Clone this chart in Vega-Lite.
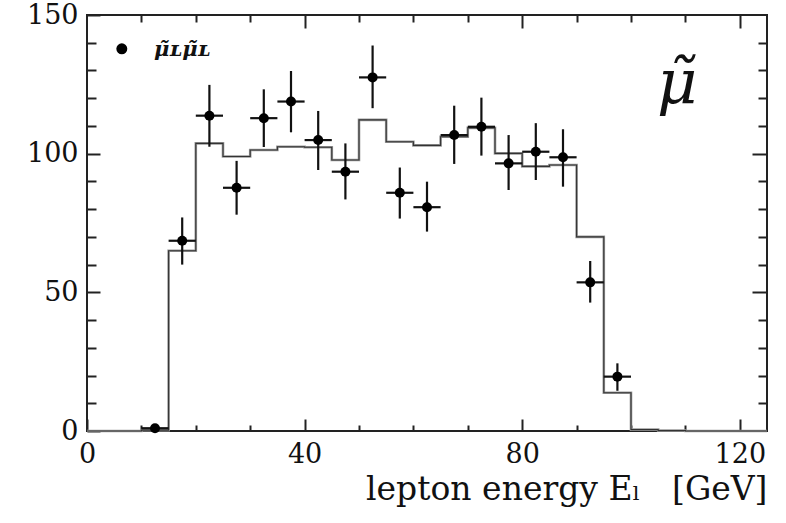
{
  "$schema": "https://vega.github.io/schema/vega-lite/v6.json",
  "width": 680,
  "height": 416,
  "autosize": {"type": "none"},
  "padding": {"left": 87, "top": 15, "right": 19, "bottom": 92},
  "background": "white",
  "config": {
    "view": {"stroke": "#222", "strokeWidth": 2},
    "axis": {"grid": false, "domain": false, "tickColor": "#222", "tickWidth": 2, "labelFont": "DejaVu Serif", "labelFontSize": 27, "labelColor": "#111", "labelFlush": false, "titleFont": "DejaVu Serif", "titleFontSize": 33, "titleFontWeight": "normal", "titleColor": "#111"}
  },
  "datasets": {
    "hist": [
      {"e": 0, "n": 0}, {"e": 5, "n": 0}, {"e": 10, "n": 0.3}, {"e": 15, "n": 65},
      {"e": 20, "n": 103.7}, {"e": 25, "n": 99}, {"e": 30, "n": 101.3}, {"e": 35, "n": 102.5},
      {"e": 40, "n": 102.3}, {"e": 45, "n": 97.7}, {"e": 50, "n": 112.2}, {"e": 55, "n": 104.3},
      {"e": 60, "n": 103}, {"e": 65, "n": 106.1}, {"e": 70, "n": 109.3}, {"e": 75, "n": 100.1},
      {"e": 80, "n": 95.4}, {"e": 85, "n": 95.9}, {"e": 90, "n": 70}, {"e": 95, "n": 13.8},
      {"e": 100, "n": 0.5}, {"e": 105, "n": 0.2}, {"e": 110, "n": 0}, {"e": 125, "n": 0}
    ],
    "pts": [
      {"E": 12.5, "e0": 10, "e1": 15, "n": 1, "lo": 0, "hi": 2},
      {"E": 17.5, "e0": 15, "e1": 20, "n": 68.6, "lo": 60, "hi": 77},
      {"E": 22.5, "e0": 20, "e1": 25, "n": 113.7, "lo": 102.5, "hi": 124.8},
      {"E": 27.5, "e0": 25, "e1": 30, "n": 87.7, "lo": 78, "hi": 97.4},
      {"E": 32.5, "e0": 30, "e1": 35, "n": 112.8, "lo": 102.4, "hi": 123.2},
      {"E": 37.5, "e0": 35, "e1": 40, "n": 118.8, "lo": 107.7, "hi": 129.8},
      {"E": 42.5, "e0": 40, "e1": 45, "n": 104.9, "lo": 94.1, "hi": 115.4},
      {"E": 47.5, "e0": 45, "e1": 50, "n": 93.5, "lo": 83.5, "hi": 103.7},
      {"E": 52.5, "e0": 50, "e1": 55, "n": 127.5, "lo": 116.4, "hi": 139},
      {"E": 57.5, "e0": 55, "e1": 60, "n": 85.9, "lo": 76.6, "hi": 95},
      {"E": 62.5, "e0": 60, "e1": 65, "n": 80.7, "lo": 71.9, "hi": 89.9},
      {"E": 67.5, "e0": 65, "e1": 70, "n": 106.7, "lo": 96.3, "hi": 117.3},
      {"E": 72.5, "e0": 70, "e1": 75, "n": 109.7, "lo": 99.3, "hi": 120.2},
      {"E": 77.5, "e0": 75, "e1": 80, "n": 96.5, "lo": 86.9, "hi": 106.7},
      {"E": 82.5, "e0": 80, "e1": 85, "n": 100.7, "lo": 90.5, "hi": 111},
      {"E": 87.5, "e0": 85, "e1": 90, "n": 98.7, "lo": 88.1, "hi": 108.8},
      {"E": 92.5, "e0": 90, "e1": 95, "n": 53.6, "lo": 46.3, "hi": 61.3},
      {"E": 97.5, "e0": 95, "e1": 100, "n": 19.6, "lo": 14.5, "hi": 24.4}
    ],
    "one": [{"k": 1}]
  },
  "resolve": {"scale": {"x": "shared", "y": "shared"}, "axis": {"x": "independent", "y": "independent"}},
  "layer": [
    {
      "data": {"name": "hist"},
      "mark": {"type": "line", "interpolate": "step-after", "color": "#9a9a9a", "strokeWidth": 2.6},
      "encoding": {
        "x": {"field": "e", "type": "quantitative", "scale": {"domain": [0, 125], "nice": false, "zero": false},
          "axis": {"orient": "bottom", "values": [10, 20, 30, 50, 60, 70, 90, 100, 110], "tickSize": -6, "labels": false, "title": null}},
        "y": {"field": "n", "type": "quantitative", "scale": {"domain": [0, 150], "nice": false},
          "axis": {"orient": "left", "values": [10, 20, 30, 40, 60, 70, 80, 90, 110, 120, 130, 140], "tickSize": -9, "labels": false, "title": null}}
      }
    },
    {
      "data": {"name": "hist"},
      "mark": {"type": "line", "interpolate": "step-after", "color": "#333", "strokeWidth": 1.1},
      "encoding": {
        "x": {"field": "e", "type": "quantitative",
          "axis": {"orient": "bottom", "values": [0, 40, 80, 120], "tickSize": -12, "labelPadding": 22, "title": "lepton energy Eₗ\u00a0\u00a0\u00a0[GeV]", "titleAnchor": "end", "titlePadding": 6}},
        "y": {"field": "n", "type": "quantitative",
          "axis": {"orient": "left", "values": [0, 50, 100, 150], "tickSize": -13, "labelPadding": 22, "title": null}}
      }
    },
    {
      "data": {"name": "pts"},
      "mark": {"type": "rule", "color": "#111", "strokeWidth": 2.2},
      "encoding": {
        "x": {"field": "E", "type": "quantitative",
          "axis": {"orient": "top", "values": [10, 20, 30, 50, 60, 70, 90, 100, 110], "tickSize": -7, "labels": false, "title": null}},
        "y": {"field": "lo", "type": "quantitative",
          "axis": {"orient": "right", "values": [10, 20, 30, 40, 60, 70, 80, 90, 110, 120, 130, 140], "tickSize": -9, "labels": false, "title": null}},
        "y2": {"field": "hi"}
      }
    },
    {
      "data": {"name": "pts"},
      "mark": {"type": "rule", "color": "#111", "strokeWidth": 2.2},
      "encoding": {
        "x": {"field": "e0", "type": "quantitative",
          "axis": {"orient": "top", "values": [40, 80, 120], "tickSize": -13, "labels": false, "title": null}},
        "x2": {"field": "e1"},
        "y": {"field": "n", "type": "quantitative",
          "axis": {"orient": "right", "values": [50, 100], "tickSize": -15, "labels": false, "title": null}}
      }
    },
    {
      "data": {"name": "pts"},
      "mark": {"type": "point", "filled": true, "shape": "circle", "color": "#000", "opacity": 1, "size": 100},
      "encoding": {
        "x": {"field": "E", "type": "quantitative", "axis": null},
        "y": {"field": "n", "type": "quantitative", "axis": null}
      }
    },
    {
      "data": {"name": "one"},
      "mark": {"type": "point", "filled": true, "shape": "circle", "color": "#000", "opacity": 1, "size": 120},
      "encoding": {
        "x": {"datum": 6.4, "type": "quantitative", "axis": null},
        "y": {"datum": 137.8, "type": "quantitative", "axis": null}
      }
    },
    {
      "data": {"name": "one"},
      "mark": {"type": "text", "text": "μ̃ʟμ̃ʟ", "font": "DejaVu Serif", "fontSize": 21, "fontStyle": "italic", "fontWeight": "bold", "align": "left", "baseline": "middle", "color": "#111"},
      "encoding": {
        "x": {"datum": 12.3, "type": "quantitative", "axis": null},
        "y": {"datum": 137.5, "type": "quantitative", "axis": null}
      }
    },
    {
      "data": {"name": "one"},
      "mark": {"type": "text", "text": "μ̃", "font": "DejaVu Serif", "fontSize": 62, "fontStyle": "italic", "align": "center", "baseline": "middle", "color": "#111"},
      "encoding": {
        "x": {"datum": 108.5, "type": "quantitative", "axis": null},
        "y": {"datum": 125, "type": "quantitative", "axis": null}
      }
    }
  ]
}
